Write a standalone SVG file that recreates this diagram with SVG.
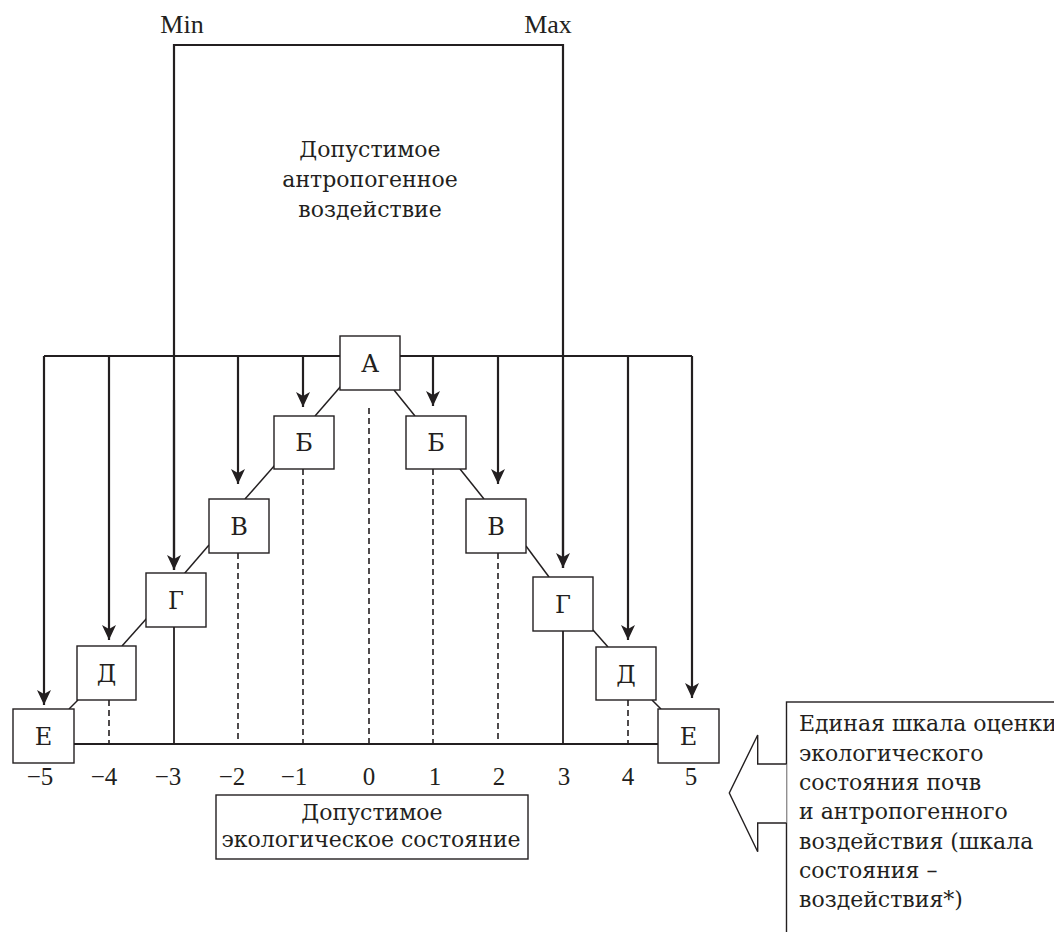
<svg xmlns="http://www.w3.org/2000/svg" width="1054" height="932" viewBox="0 0 1054 932">
<defs>
<style>
text{font-family:"DejaVu Serif","Liberation Serif",serif;fill:#231f20;font-size:22px}
.lat{font-family:"Liberation Serif","Times New Roman",serif;font-size:26px}
.c{text-anchor:middle}
.bl{font-size:24px;text-anchor:middle}
.box{fill:#fff;stroke:#231f20;stroke-width:1.4}
.ln{fill:none;stroke:#231f20;stroke-width:2.2}
.thin{fill:none;stroke:#231f20;stroke-width:1.5}
.dash{fill:none;stroke:#231f20;stroke-width:1.6;stroke-dasharray:6 4}
.lab{font-family:"Liberation Serif","Times New Roman",serif;font-size:25px;text-anchor:middle}
</style>
<marker id="ah" markerWidth="16" markerHeight="14" refX="15" refY="7" orient="auto" markerUnits="userSpaceOnUse">
<path d="M15,7 L0,0 L4,7 L0,14 Z" fill="#231f20"/>
</marker>
</defs>
<rect width="1054" height="932" fill="#fff"/>

<g id="labels-top">
<text x="182" y="33" class="c lat">Min</text>
<text x="548" y="33" class="c lat">Max</text>
<text x="370" y="157" class="c">Допустимое</text>
<text x="370" y="187" class="c">антропогенное</text>
<text x="370" y="217" class="c">воздействие</text>
</g>

<g id="connectors">
<path class="ln" d="M174,570 V45 H563 V568"/>
<path class="ln" d="M44,356 H692"/>
<path class="ln" d="M44,356 V705" marker-end="url(#ah)"/>
<path class="ln" d="M109,356 V640" marker-end="url(#ah)"/>
<path class="ln" d="M174,400 V570" marker-end="url(#ah)"/>
<path class="ln" d="M238,356 V484" marker-end="url(#ah)"/>
<path class="ln" d="M303,356 V407" marker-end="url(#ah)"/>
<path class="ln" d="M433,356 V406" marker-end="url(#ah)"/>
<path class="ln" d="M498,356 V484" marker-end="url(#ah)"/>
<path class="ln" d="M563,400 V568" marker-end="url(#ah)"/>
<path class="ln" d="M628,356 V640" marker-end="url(#ah)"/>
<path class="ln" d="M692,356 V698" marker-end="url(#ah)"/>
<path class="thin" d="M341,386 L315,416"/>
<path class="thin" d="M275,465 L245,499"/>
<path class="thin" d="M209,545 L184,574"/>
<path class="thin" d="M147,618 L122,646"/>
<path class="thin" d="M78,700 L69,709"/>
<path class="thin" d="M394,390 L415,416"/>
<path class="thin" d="M460,469 L484,499"/>
<path class="thin" d="M526,546 L549,577"/>
<path class="thin" d="M593,630 L608,647"/>
<path class="thin" d="M652,700 L661,709"/>
<path class="thin" d="M74,744 H658" style="stroke-width:1.8"/>
<path class="dash" d="M109,700 V744"/>
<path class="thin" d="M174,627 V744" style="stroke-width:1.8"/>
<path class="dash" d="M238,553 V744"/>
<path class="dash" d="M303,469 V744"/>
<path class="dash" d="M369,408 V744"/>
<path class="dash" d="M433,469 V744"/>
<path class="dash" d="M498,553 V744"/>
<path class="thin" d="M563,631 V744" style="stroke-width:1.8"/>
<path class="dash" d="M628,700 V744"/>
</g>

<g id="node-A"><rect class="box" x="340" y="336" width="60" height="54"/><text x="370" y="372" class="bl">А</text></g>
<g id="node-B-left"><rect class="box" x="274" y="416" width="60" height="53"/><text x="304" y="451" class="bl">Б</text></g>
<g id="node-B-right"><rect class="box" x="406" y="416" width="60" height="53"/><text x="436" y="451" class="bl">Б</text></g>
<g id="node-V-left"><rect class="box" x="209" y="499" width="60" height="54"/><text x="239" y="535" class="bl">В</text></g>
<g id="node-V-right"><rect class="box" x="466" y="499" width="60" height="54"/><text x="496" y="535" class="bl">В</text></g>
<g id="node-G-left"><rect class="box" x="146" y="573" width="60" height="54"/><text x="176" y="609" class="bl">Г</text></g>
<g id="node-G-right"><rect class="box" x="533" y="577" width="60" height="54"/><text x="563" y="613" class="bl">Г</text></g>
<g id="node-D-left"><rect class="box" x="77" y="646" width="59" height="54"/><text x="106.5" y="682" class="bl">Д</text></g>
<g id="node-D-right"><rect class="box" x="596" y="647" width="60" height="53"/><text x="626" y="683" class="bl">Д</text></g>
<g id="node-E-left"><rect class="box" x="13" y="709" width="61" height="54"/><text x="43.5" y="745" class="bl">Е</text></g>
<g id="node-E-right"><rect class="box" x="658" y="709" width="61" height="54"/><text x="688.5" y="745" class="bl">Е</text></g>

<g id="scale-labels">
<text x="40" y="785" class="lab">−5</text>
<text x="104" y="785" class="lab">−4</text>
<text x="168" y="785" class="lab">−3</text>
<text x="232" y="785" class="lab">−2</text>
<text x="294" y="785" class="lab">−1</text>
<text x="369" y="785" class="lab">0</text>
<text x="435" y="785" class="lab">1</text>
<text x="499" y="785" class="lab">2</text>
<text x="564" y="785" class="lab">3</text>
<text x="628" y="785" class="lab">4</text>
<text x="691" y="785" class="lab">5</text>
</g>

<g id="node-state">
<rect class="box" x="216" y="795" width="312" height="64"/>
<text x="372" y="820" class="c">Допустимое</text>
<text x="371" y="847" class="c">экологическое состояние</text>
</g>

<g id="node-scale">
<rect class="box" x="786.5" y="702" width="300" height="260"/>
<polyline class="box" points="786.5,764 757.7,764 757.7,735 729.3,793 757.7,851.7 757.7,823 786.5,823"/>
<text x="799" y="731">Единая шкала оценки</text>
<text x="799" y="761">экологического</text>
<text x="799" y="790">состояния почв</text>
<text x="799" y="819">и антропогенного</text>
<text x="799" y="849">воздействия (шкала</text>
<text x="799" y="878">состояния –</text>
<text x="799" y="907">воздействия*)</text>
</g>
</svg>
